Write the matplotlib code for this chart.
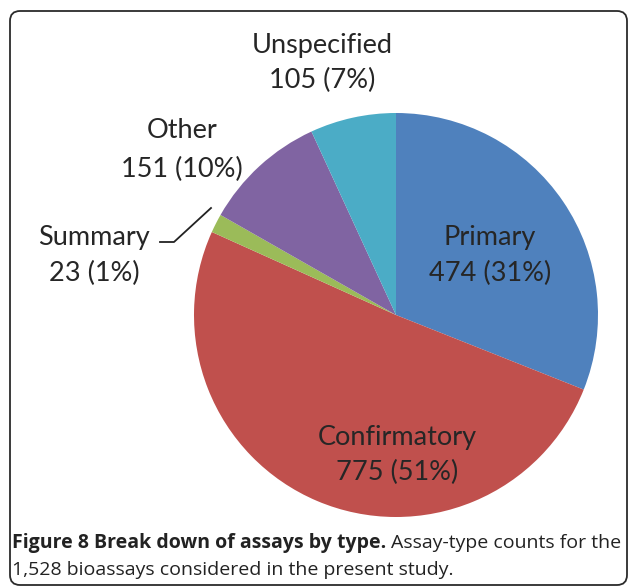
import matplotlib
matplotlib.use("Agg")
import matplotlib.pyplot as plt
from matplotlib.patches import FancyBboxPatch

# assay types, clockwise from 12 o'clock
labels = ["Primary", "Confirmatory", "Summary", "Other", "Unspecified"]
counts = [474, 775, 23, 151, 105]
pcts = ["31%", "51%", "1%", "10%", "7%"]
colors = ["#4F81BD", "#C0504D", "#9BBB59", "#8064A2", "#4BACC6"]

W, H = 629, 586
fig = plt.figure(figsize=(W / 100, H / 100), dpi=100)
ax = fig.add_axes([0, 0, 1, 1])

def py(y):
    # pixel row from top -> data y
    return H - y

ax.pie(counts, colors=colors, startangle=90, counterclock=False,
       center=(396, py(315)), radius=202, frame=True,
       wedgeprops=dict(linewidth=0))
ax.set_xlim(0, W)
ax.set_ylim(0, H)
ax.set_aspect("equal")
ax.axis("off")

# outer rounded frame
frame = FancyBboxPatch((10, py(585)), 617, 585 - 11,
                       boxstyle="round,pad=0,rounding_size=10",
                       fill=False, edgecolor="#2b2b2b", linewidth=1.3)
ax.add_patch(frame)

lab_font = dict(family="Lato", fontsize=19.5, color="#262626", ha="center", va="center")
label_pos = {
    "Primary": (490, 237, 273),
    "Confirmatory": (397, 437, 472),
    "Summary": (94, 237, 273),
    "Other": (182, 131, 169),
    "Unspecified": (322, 45, 80),
}
for name, n, p in zip(labels, counts, pcts):
    x, y1, y2 = label_pos[name]
    ax.text(x, py(y1), name, **lab_font)
    ax.text(x, py(y2), f"{n} ({p})", **lab_font)

# leader line for the small Summary slice
ax.plot([160, 174, 211], [py(242), py(242), py(208)], color="#222222", lw=1.3)

cap = dict(family="Open Sans", fontsize=14, color="#222222", va="center")
t1 = ax.text(12, py(543), "Figure 8 Break down of assays by type.", fontweight="bold", **cap)
fig.canvas.draw()
bb = t1.get_window_extent()
ax.text(bb.x1 + 5, py(543), "Assay-type counts for the", **cap)
ax.text(12, py(570), "1,528 bioassays considered in the present study.", **cap)

fig.savefig("out.png", dpi=100)
